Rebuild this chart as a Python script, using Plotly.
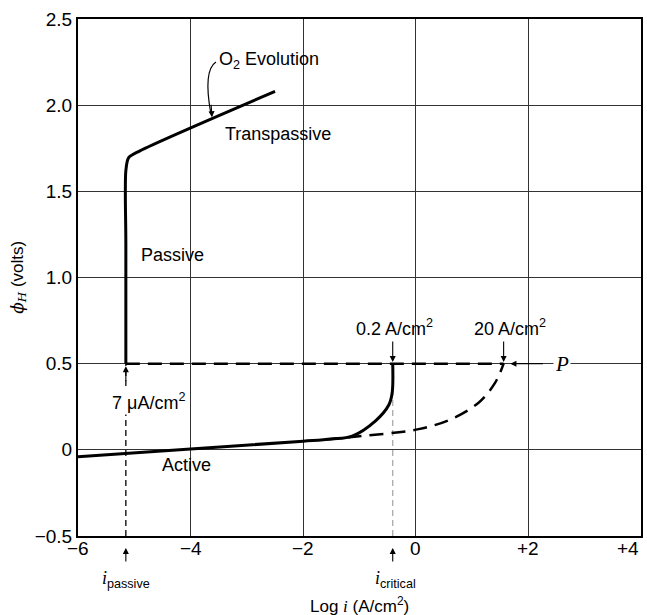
import plotly.graph_objects as go

# Polarization curve of a passivating metal: log current density vs. potential
active_x = [-6.0, -4.0, -2.0, -1.5, -1.13, -0.71, -0.48, -0.42, -0.41]
active_y = [-0.04, 0.005, 0.05, 0.063, 0.08, 0.17, 0.26, 0.33, 0.5]

extended_x = [-1.6, -1.13, 0.05, 0.64, 1.12, 1.41, 1.56]
extended_y = [0.06, 0.075, 0.12, 0.18, 0.275, 0.39, 0.5]

passive_x = [-5.15, -5.15, -5.15, -5.1, -4.9, -2.5]
passive_y = [0.5, 1.2, 1.62, 1.695, 1.735, 2.08]

i_passive = -5.15
i_critical = -0.41
i_primary = 1.56
flade_potential = 0.5

x_ticks = [-6, -4, -2, 0, 2, 4]
x_tick_text = ["\u22126", "\u22124", "\u22122", "0", "+2", "+4"]
y_ticks = [-0.5, 0, 0.5, 1.0, 1.5, 2.0, 2.5]
y_tick_text = ["\u22120.5", "0", "0.5", "1.0", "1.5", "2.0", "2.5"]

X_MIN, X_MAX = -6, 4
Y_MIN, Y_MAX = -0.5, 2.5
FONT = "Liberation Sans, Arial, sans-serif"
SERIF = "Liberation Serif, Times New Roman, serif"


def paper_x(v):
    return (v - X_MIN) / (X_MAX - X_MIN)


def paper_y(v):
    """Convert a potential value to paper coordinates (works below the axis too)."""
    return (v - Y_MIN) / (Y_MAX - Y_MIN)


fig = go.Figure()

# Vertical guide lines at the passive and critical current densities
fig.add_trace(go.Scatter(x=[i_passive, i_passive], y=[Y_MIN, flade_potential], mode="lines",
                         line=dict(color="black", width=1.3, dash="6px,4px"), hoverinfo="skip"))
fig.add_trace(go.Scatter(x=[i_critical, i_critical], y=[Y_MIN, flade_potential], mode="lines",
                         line=dict(color="#aaaaaa", width=1.3, dash="6px,4px"), hoverinfo="skip"))

# Dashed horizontal line at the passivation potential
fig.add_trace(go.Scatter(x=[i_passive, i_primary], y=[flade_potential, flade_potential], mode="lines",
                         line=dict(color="black", width=2.5, dash="14px,8px"), hoverinfo="skip"))

# Dashed extension of the active region
fig.add_trace(go.Scatter(x=extended_x, y=extended_y, mode="lines", line_shape="spline",
                         line=dict(color="black", width=2.5, dash="14px,8px"), hoverinfo="skip"))

# Solid curves: active and passive/transpassive branches
fig.add_trace(go.Scatter(x=active_x, y=active_y, mode="lines", line_shape="spline",
                         line=dict(color="black", width=3), hoverinfo="skip"))
fig.add_trace(go.Scatter(x=passive_x, y=passive_y, mode="lines", line_shape="spline",
                         line=dict(color="black", width=3, smoothing=0.8), hoverinfo="skip"))

ann = []


def text(x, y, s, size=18, xanchor="center", yanchor="middle", font=FONT, bg=None):
    d = dict(x=paper_x(x), y=paper_y(y), text=s, showarrow=False, xanchor=xanchor, yanchor=yanchor,
             xref="paper", yref="paper", font=dict(family=font, size=size, color="black"))
    if bg:
        d["bgcolor"] = bg
    ann.append(d)


def arrow(x, y, ax, ay):
    ann.append(dict(x=x, y=paper_y(y), text="", showarrow=True, ax=ax, ay=ay, xref="x", yref="paper",
                    arrowhead=2, arrowsize=1.1, arrowwidth=1.1, arrowcolor="black"))


def italic_i(sub):
    return ("<span style='font-family:Liberation Serif, Times New Roman, serif'><i>i</i></span>"
            "<sub>" + sub + "</sub>")


# Region labels
text(-2.6, 2.26, "O<sub>2</sub> Evolution")
text(-2.45, 1.83, "Transpassive")
text(-4.33, 1.13, "Passive")
text(-4.07, -0.09, "Active")

# Current density markers
text(-4.75, 0.28, "7 \u03bcA/cm<sup>2</sup>", bg="white")
arrow(i_passive, flade_potential - 0.015, 0, 16)
text(-0.38, 0.71, "0.2 A/cm<sup>2</sup>")
arrow(i_critical, flade_potential + 0.01, 0, -22)
text(1.68, 0.71, "20 A/cm<sup>2</sup>")
arrow(i_primary, flade_potential + 0.01, 0, -22)
text(2.6, 0.5, "<i>P</i>", size=21, font=SERIF, bg="white")
arrow(1.68, flade_potential, 34, 0)

# Curved pointer from the O2 label to the transpassive line
fig.add_shape(type="path", path="M -3.55,2.25 Q -3.78,2.2 -3.64,1.95",
              line=dict(color="black", width=1.2), xref="x", yref="y")
arrow(-3.62, 1.93, -1, -14)

# Arrows below the axis marking i_passive and i_critical
arrow(i_passive, -0.57, 0, 15)
arrow(i_critical, -0.57, 0, 15)
text(i_passive, -0.755, italic_i("passive"), size=18)
text(i_critical + 0.05, -0.755, italic_i("critical"), size=18)

# X tick labels
for v, t in zip(x_ticks, x_tick_text):
    text(v, -0.57, t, size=19, xanchor="center" if v < X_MAX else "right")

# Axis titles
ann.append(dict(x=0.5, y=-0.133, xref="paper", yref="paper",
                text="Log <span style='font-family:Liberation Serif, serif'><i>i</i></span> (A/cm<sup>2</sup>)",
                showarrow=False, yanchor="middle", font=dict(family=FONT, size=17, color="black")))
ann.append(dict(x=-0.13, y=0.5, xref="paper", yref="paper",
                text="<span style='font-family:DejaVu Serif, serif'><i>\u03d5<sub>H</sub></i></span> (volts)",
                textangle=-90, showarrow=False, font=dict(family=FONT, size=17, color="black")))

fig.update_layout(
    width=647, height=615,
    margin=dict(l=78, r=4, t=19, b=79),
    paper_bgcolor="white", plot_bgcolor="white",
    showlegend=False,
    annotations=ann,
    xaxis=dict(range=[X_MIN, X_MAX], tickvals=x_ticks, showticklabels=False,
               showgrid=True, gridcolor="#333333", gridwidth=1, zeroline=False,
               showline=True, linecolor="black", linewidth=2, mirror=True),
    yaxis=dict(range=[Y_MIN, Y_MAX], tickvals=y_ticks, ticktext=y_tick_text,
               tickfont=dict(family=FONT, size=19, color="black"),
               showgrid=True, gridcolor="#333333", gridwidth=1, zeroline=False,
               showline=True, linecolor="black", linewidth=2, mirror=True, ticks=""),
)

fig.write_html("out.html")
